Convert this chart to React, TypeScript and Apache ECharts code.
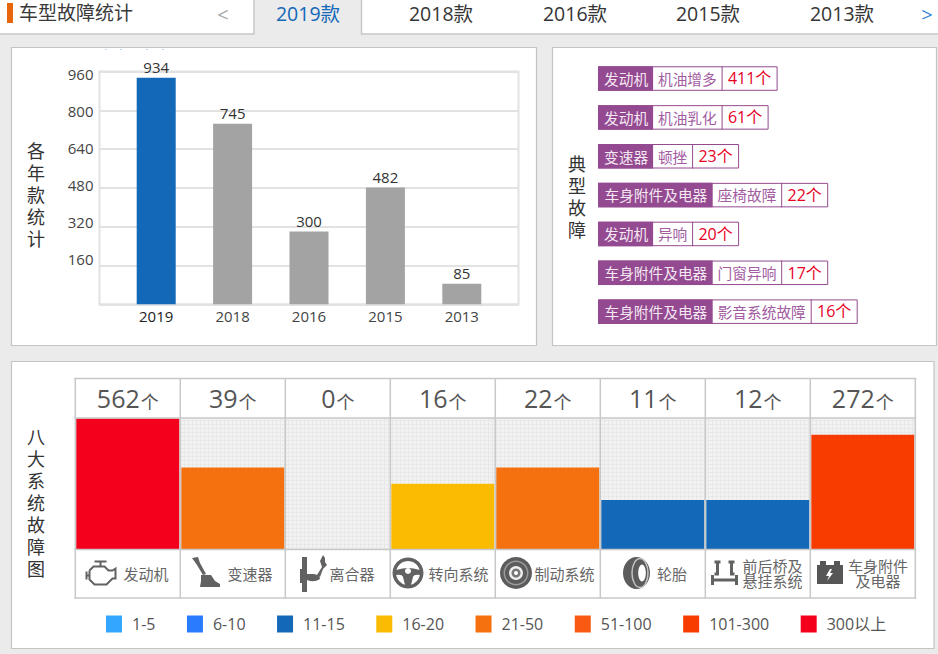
import React, { useEffect, useRef } from "react";
import * as echarts from "echarts";

const FONT = '"Open Sans","Noto Sans CJK SC",sans-serif';
const CJK = '"Noto Sans CJK SC",sans-serif';

// ---- data ----
const tabYears = ["2019款", "2018款", "2016款", "2015款", "2013款"];
const modelYears = ["2019", "2018", "2016", "2015", "2013"];
const yearCounts = [934, 745, 300, 482, 85];
const yTicks = [0, 160, 320, 480, 640, 800, 960];

const faultSystems = ["发动机", "发动机", "变速器", "车身附件及电器", "发动机", "车身附件及电器", "车身附件及电器"];
const faultIssues = ["机油增多", "机油乳化", "顿挫", "座椅故障", "异响", "门窗异响", "影音系统故障"];
const faultCounts = [411, 61, 23, 22, 20, 17, 16];

const systemNames = ["发动机", "变速器", "离合器", "转向系统", "制动系统", "轮胎", "前后桥及\n悬挂系统", "车身附件\n及电器"];
const systemCounts = [562, 39, 0, 16, 22, 11, 12, 272];
const systemLevels = [8, 5, 0, 4, 5, 3, 3, 7];
const binLabels = ["1-5", "6-10", "11-15", "16-20", "21-50", "51-100", "101-300", "300以上"];
const binColors = ["#33a6ff", "#2b7bff", "#1368b8", "#fbbb00", "#f5700f", "#f85a14", "#f83c00", "#f5001c"];

// ---- layout ----
const TAB_X = [308, 441, 575, 708, 842];
const NAME_X = [146, 250, 352, 458.5, 564.5, 672, 772.5, 878];
const COL_X0 = 75.3;
const COL_W = 105;

const ICONS: Record<string, string> = {
  iconEngine:
    "M10 0H22M16 0V4M2 10V18M2 14H5M5 9L9 5H20L24 9H28L31 7V17H28L22 23H10L5 18V9",
  iconShift:
    "M1 1L7 0L9 6L15 17L12 18L6 8ZM10 18H20L24 24L29 27V30H9L10 24Z",
  iconClutch:
    "M2 2H7V37H2ZM0 14H3V28H0ZM7 19H14Q20 20 20 24Q14 28 7 25ZM17 20L22 12L20 6L23 0L25 3L25 7L27 10L23 14L20 22Z",
  iconWheelSpokes:
    "M-12 -3Q-5 -5 0 -5Q5 -5 12 -3L12 2Q6 1 5 4L3 12H-3L-5 4Q-6 1 -12 2Z",
  iconAxle: "M2 2H8M5 2V14H2M16 2H22M19 2V14H22M0 15V25M24 15V25M0 20H24",
  iconBolt: "M4 0L0 7H3L1 12L7 4H4L6 0Z",
};
Object.entries(ICONS).forEach(([k, d]) => {
  echarts.graphic.registerShape(k, echarts.graphic.extendPath(d as any, {}) as any);
});

const txt = (text: string, x: number, y: number, fontSize: number, fill: string, extra: any = {}) => ({
  type: "text",
  x,
  y,
  z: 5,
  style: { text, fontSize, fill, fontFamily: FONT, textAlign: "center", textVerticalAlign: "middle", ...extra },
});
const rect = (x: number, y: number, w: number, h: number, style: any, z = 0) => ({
  type: "rect",
  z,
  shape: { x, y, width: w, height: h },
  style,
});
const hline = (x1: number, x2: number, y: number) => ({
  type: "line",
  z: 4,
  shape: { x1, y1: y, x2, y2: y },
  style: { stroke: "#c8c8c8", lineWidth: 1.5 },
});
const vline = (x: number, y1: number, y2: number, stroke = "#c8c8c8", lineWidth = 1.5) => ({
  type: "line",
  z: 4,
  shape: { x1: x, y1, x2: x, y2 },
  style: { stroke, lineWidth },
});

function makePattern() {
  const c = document.createElement("canvas");
  c.width = 4;
  c.height = 4;
  const g = c.getContext("2d")!;
  g.fillStyle = "#f2f2f2";
  g.fillRect(0, 0, 4, 4);
  g.fillStyle = "#e8e8e8";
  g.fillRect(0, 0, 4, 1);
  g.fillRect(0, 0, 1, 4);
  return c;
}

function tagGraphics() {
  const PURPLE = "#944a90";
  const out: any[] = [];
  faultSystems.forEach((sys, i) => {
    const y = 66.3 + 38.85 * i;
    const h = 23.5;
    const x0 = 598;
    const w1 = 14.9 * sys.length + 10.4;
    const w2 = 14.75 * faultIssues[i].length + 9.5;
    const countText = faultCounts[i] + "个";
    const w3 = faultCounts[i] >= 100 ? 55 : 46;
    out.push(rect(x0 + 0.5, y + 0.5, w1 + w2 + w3, h, { fill: "#fff", stroke: PURPLE, lineWidth: 1 }, 1));
    out.push(rect(x0, y, w1, h + 1, { fill: PURPLE }, 2));
    out.push(vline(x0 + w1 + w2 + 0.5, y, y + h + 1, PURPLE, 1));
    out.push(txt(sys, x0 + w1 / 2 + 0.5, y + 12, 14.7, "#f5e8f4", { fontFamily: CJK }));
    out.push(txt(faultIssues[i], x0 + w1 + w2 / 2, y + 12, 14.7, "#a25c9f", { fontFamily: CJK }));
    out.push(txt(countText, x0 + w1 + w2 + w3 / 2 + 0.5, y + 12, 16, "#e8001f"));
  });
  return out;
}

function iconGraphics() {
  const G = "#626262";
  const stroke = { fill: "none", stroke: G, lineWidth: 2 };
  return [
    { type: "iconEngine", x: 84.5, y: 561.5, z: 5, style: stroke },
    { type: "iconShift", x: 191, y: 557, z: 5, style: { fill: G } },
    { type: "iconClutch", x: 300, y: 555, z: 5, style: { fill: G } },
    // steering wheel
    { type: "ring", z: 5, shape: { cx: 408, cy: 573, r: 15.5, r0: 12 }, style: { fill: G } },
    { type: "iconWheelSpokes", x: 408, y: 573, z: 5, style: { fill: G } },
    { type: "circle", z: 6, shape: { cx: 408, cy: 571, r: 3 }, style: { fill: "#fff" } },
    // brake disc
    { type: "circle", z: 5, shape: { cx: 516, cy: 573, r: 16 }, style: { fill: "#5c5c5c" } },
    { type: "ring", z: 6, shape: { cx: 516, cy: 573, r: 12.5, r0: 11 }, style: { fill: "#9a9a9a" } },
    { type: "circle", z: 6, shape: { cx: 516, cy: 573, r: 7 }, style: { fill: "#eeeeee" } },
    { type: "circle", z: 7, shape: { cx: 516, cy: 573, r: 4.5 }, style: { fill: "#777" } },
    { type: "circle", z: 8, shape: { cx: 516, cy: 573, r: 2 }, style: { fill: "#fff" } },
    // tire
    { type: "ellipse", z: 5, shape: { cx: 636.5, cy: 573, rx: 13.5, ry: 16 }, style: { fill: "#5c5c5c" } },
    { type: "ellipse", z: 6, shape: { cx: 640, cy: 573, rx: 8, ry: 14.5 }, style: { fill: "#5c5c5c", stroke: "#c4c4c4", lineWidth: 1.5 } },
    { type: "ellipse", z: 7, shape: { cx: 642, cy: 573, rx: 3.8, ry: 8.5 }, style: { fill: "#fff" } },
    // axle
    { type: "iconAxle", x: 712.5, y: 560, z: 5, style: { fill: "none", stroke: G, lineWidth: 3 } },
    // battery
    rect(817, 565, 26, 19, { fill: "#565656" }, 5),
    rect(820, 561, 6, 4, { fill: "#565656" }, 5),
    rect(834, 561, 6, 4, { fill: "#565656" }, 5),
    { type: "iconBolt", x: 826, y: 569, z: 6, style: { fill: "#fff" } },
  ];
}

function buildGraphics(pattern: HTMLCanvasElement) {
  const els: any[] = [];
  // header strip: the active tab opens into the page background below it
  els.push(rect(0, 0, 938, 33.5, { fill: "#fff" }, -5));
  els.push(hline(0, 254, 34), hline(361.5, 938, 34));
  els.push(rect(7, 3, 6, 20, { fill: "#e8650a" }, 1));
  els.push(txt("车型故障统计", 19, 12.5, 19, "#3a3a3a", { textAlign: "left" }));
  els.push(txt("<", 223, 14, 20, "#a8a8a8"));
  els.push(txt(">", 927, 14, 20, "#3a86d8"));
  els.push(rect(254, 0, 108, 35, { fill: "#ebebeb" }, 1));
  els.push(vline(254, 0, 34.5), vline(361.5, 0, 34.5));
  tabYears.forEach((t, i) => {
    els.push(txt(t, TAB_X[i], 13, 19.5, i === 0 ? "#1368b8" : "#353535"));
  });

  // panels
  const panel = { fill: "#fff", stroke: "#c4c4c4", lineWidth: 1.2 };
  els.push(rect(11.5, 47.5, 525, 298, panel, -4));
  els.push(rect(552.5, 47.5, 384, 298, panel, -4));
  els.push(rect(11.5, 361.5, 922.5, 287, panel, -4));

  // clipped remnant under the top edge of the first panel
  [105, 120, 146, 162].forEach((x) => els.push(rect(x, 49, 2, 1, { fill: "#b9d4ef" }, 1)));

  // vertical titles
  const vt = (s: string, x: number, cy: number) =>
    txt(s.split("").join("\n"), x, cy, 18, "#333", { fontFamily: CJK, lineHeight: 22 });
  els.push(vt("各年款统计", 36, 194));
  els.push(vt("典型故障", 577, 195.5));
  els.push(vt("八大系统故障图", 36, 502));

  els.push(...tagGraphics());

  // table
  systemNames.forEach((_, i) => {
    els.push(
      rect(COL_X0 + COL_W * i, 418.5, COL_W, 130.5, { fill: { image: pattern, repeat: "repeat" } }, -1)
    );
    els.push(
      txt(systemNames[i], NAME_X[i], 573, 15, "#666", { fontFamily: CJK, lineHeight: 15 })
    );
  });
  for (let i = 0; i <= systemNames.length; i++) els.push(vline(COL_X0 + COL_W * i, 378, 598.5));
  [378.5, 418, 549.5, 598].forEach((y) => els.push(hline(COL_X0 - 1, COL_X0 + COL_W * 8 + 1, y)));
  els.push(...iconGraphics());
  return els;
}

const hiddenX = (gridIndex: number) => ({ type: "value", gridIndex, show: false, min: 0, max: 1 });

export default function App() {
  const ref = useRef<HTMLDivElement>(null);
  useEffect(() => {
    document.body.style.margin = "0";
    const chart = echarts.init(ref.current!, undefined, { renderer: "svg" });
    const option: any = {
      animation: false,
      backgroundColor: "#ebebeb",
      textStyle: { fontFamily: FONT },
      graphic: { elements: buildGraphics(makePattern()) },
      grid: [
        { left: 99.5, top: 71.5, width: 419, height: 232.8, show: true, borderColor: "#e2e2e2", borderWidth: 2 },
        { left: 118, top: 71.5, width: 382, height: 232.8 },
        { left: 99.5, top: 74, width: 419, height: 222 },
        { left: COL_X0, top: 418.5, width: COL_W * 8, height: 130.5 },
      ],
      xAxis: [
        hiddenX(0),
        {
          type: "category",
          gridIndex: 1,
          data: modelYears,
          axisLine: { show: false },
          axisTick: { show: false },
          axisLabel: {
            fontSize: 15,
            margin: 4,
            fontFamily: FONT,
            color: (_v: string, i: number) => (i === 0 ? "#222" : "#444"),
          },
        },
        hiddenX(2),
        {
          type: "category",
          gridIndex: 3,
          position: "top",
          data: systemNames,
          axisLine: { show: false },
          axisTick: { show: false },
          axisLabel: {
            interval: 0,
            margin: 8,
            formatter: (_v: string, i: number) => `{n|${systemCounts[i]}}{u|个}`,
            rich: {
              n: { fontSize: 25, color: "#555", fontFamily: FONT },
              u: { fontSize: 18, color: "#555", fontFamily: CJK, padding: [5, 0, 0, 1] },
            },
          },
        },
      ],
      yAxis: [
        {
          type: "value",
          gridIndex: 0,
          min: yTicks[0],
          max: yTicks[yTicks.length - 1],
          interval: yTicks[1],
          axisLine: { show: false },
          axisTick: { show: false },
          axisLabel: { show: false },
          splitLine: { lineStyle: { color: "#e2e2e2", width: 2 } },
        },
        {
          type: "value",
          gridIndex: 1,
          min: yTicks[0],
          max: yTicks[yTicks.length - 1],
          interval: yTicks[1],
          show: false,
        },
        {
          type: "value",
          gridIndex: 2,
          min: yTicks[0],
          max: yTicks[yTicks.length - 1],
          interval: yTicks[1],
          axisLine: { show: false },
          axisTick: { show: false },
          splitLine: { show: false },
          axisLabel: {
            fontSize: 15,
            margin: 6,
            color: "#444",
            fontFamily: FONT,
            formatter: (v: number) => (v === 0 ? "" : String(v)),
          },
        },
        { type: "value", gridIndex: 3, min: 0, max: 8, show: false },
      ],
      legend: {
        left: 106,
        top: 615.5,
        itemWidth: 16,
        itemHeight: 17,
        itemGap: 31.5,
        selectedMode: false,
        padding: 0,
        icon: "rect",
        data: binLabels,
        textStyle: { fontSize: 16, color: "#555", fontFamily: FONT, padding: [0, 0, 0, 5] },
      },
      series: [
        {
          type: "bar",
          xAxisIndex: 1,
          yAxisIndex: 1,
          barWidth: 39,
          data: yearCounts.map((v, i) => ({
            value: v,
            itemStyle: { color: i === 0 ? "#1368b8" : "#a3a3a3" },
          })),
          label: { show: true, position: "top", distance: 3, fontSize: 15, color: "#333", fontFamily: FONT },
        },
        ...binLabels.map((name, b) => ({
          type: "bar",
          name,
          xAxisIndex: 3,
          yAxisIndex: 3,
          stack: "levels",
          barWidth: 103,
          itemStyle: { color: binColors[b] },
          data: systemLevels.map((lv) => (lv === b + 1 ? lv : null)),
        })),
      ],
    };
    chart.setOption(option);
    return () => chart.dispose();
  }, []);
  return <div ref={ref} style={{ position: "fixed", left: 0, top: 0, width: 938, height: 654 }} />;
}
